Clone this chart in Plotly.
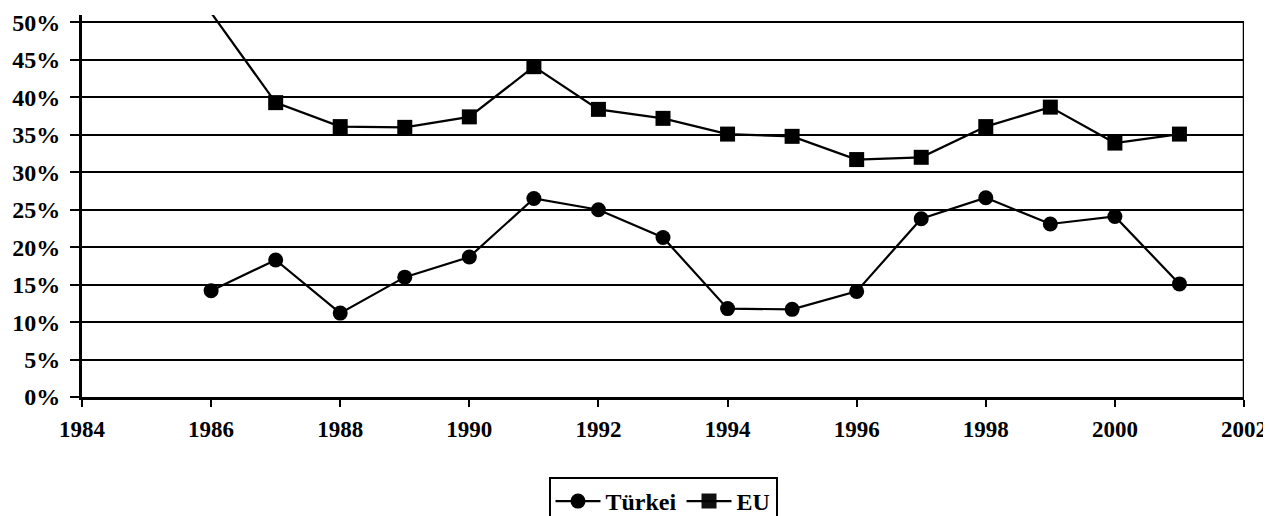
import plotly.graph_objects as go

years = list(range(1986, 2002))
tuerkei = [14.2, 18.3, 11.2, 16.0, 18.7, 26.5, 25.0, 21.3, 11.8, 11.7, 14.1, 23.8, 26.6, 23.1, 24.1, 15.1]
eu = [51.3, 39.3, 36.1, 36.0, 37.4, 44.1, 38.4, 37.2, 35.1, 34.8, 31.7, 32.0, 36.1, 38.7, 33.9, 35.1]
x_ticks = list(range(1984, 2003, 2))
y_ticks = list(range(0, 51, 5))

YMAX_AXIS = 50
yfont = dict(family="Liberation Serif", size=24, color="black", weight="bold")
xfont = dict(family="Liberation Serif", size=23, color="black", weight="bold")
legend_font = dict(family="Liberation Serif", size=24, color="black", weight="bold")

W, H = 1263, 508  # page body has an 8px margin

fig = go.Figure()
fig.add_trace(go.Scatter(
    x=years, y=tuerkei, name="Türkei", mode="lines+markers",
    line=dict(color="black", width=2.2),
    marker=dict(symbol="circle", size=15, color="black"),
))
fig.add_trace(go.Scatter(
    x=years, y=eu, name="EU", mode="lines+markers",
    line=dict(color="black", width=2.2),
    marker=dict(symbol="square", size=15, color="black",
                opacity=[0 if v > YMAX_AXIS else 1 for v in eu]),
))

fig.add_shape(type="line", xref="x", yref="y", x0=2002, x1=2002, y0=0, y1=YMAX_AXIS,
              line=dict(color="black", width=2.5))

fig.update_xaxes(
    range=[1984, 2002], tickvals=x_ticks, ticktext=[str(v) for v in x_ticks],
    showgrid=False, zeroline=False, showline=True, linecolor="black", linewidth=3,
    ticks="outside", ticklen=7, tickwidth=2, tickcolor="black", tickfont=xfont,
    ticklabelstandoff=2, ticklabeloverflow="allow", automargin=False,
)
fig.update_yaxes(
    range=[0, 51], tickvals=y_ticks, ticktext=[f"{v}%" for v in y_ticks],
    showgrid=True, gridcolor="black", gridwidth=2, zeroline=False,
    showline=True, linecolor="black", linewidth=3,
    ticks="outside", ticklen=9, tickwidth=2, tickcolor="black", tickfont=yfont,
    ticklabelstandoff=5, ticklabeloverflow="allow", automargin=False,
)

fig.update_layout(
    width=W, height=H,
    margin=dict(l=74, r=27, t=7, b=119),
    paper_bgcolor="white", plot_bgcolor="white",
    showlegend=True,
    legend=dict(orientation="h", x=0.5, xanchor="center",
                yref="container", y=(H - 469) / H, yanchor="top",
                bordercolor="black", borderwidth=2, bgcolor="white",
                font=legend_font, itemwidth=45, tracegroupgap=0),
)

fig.write_html("out.html")
